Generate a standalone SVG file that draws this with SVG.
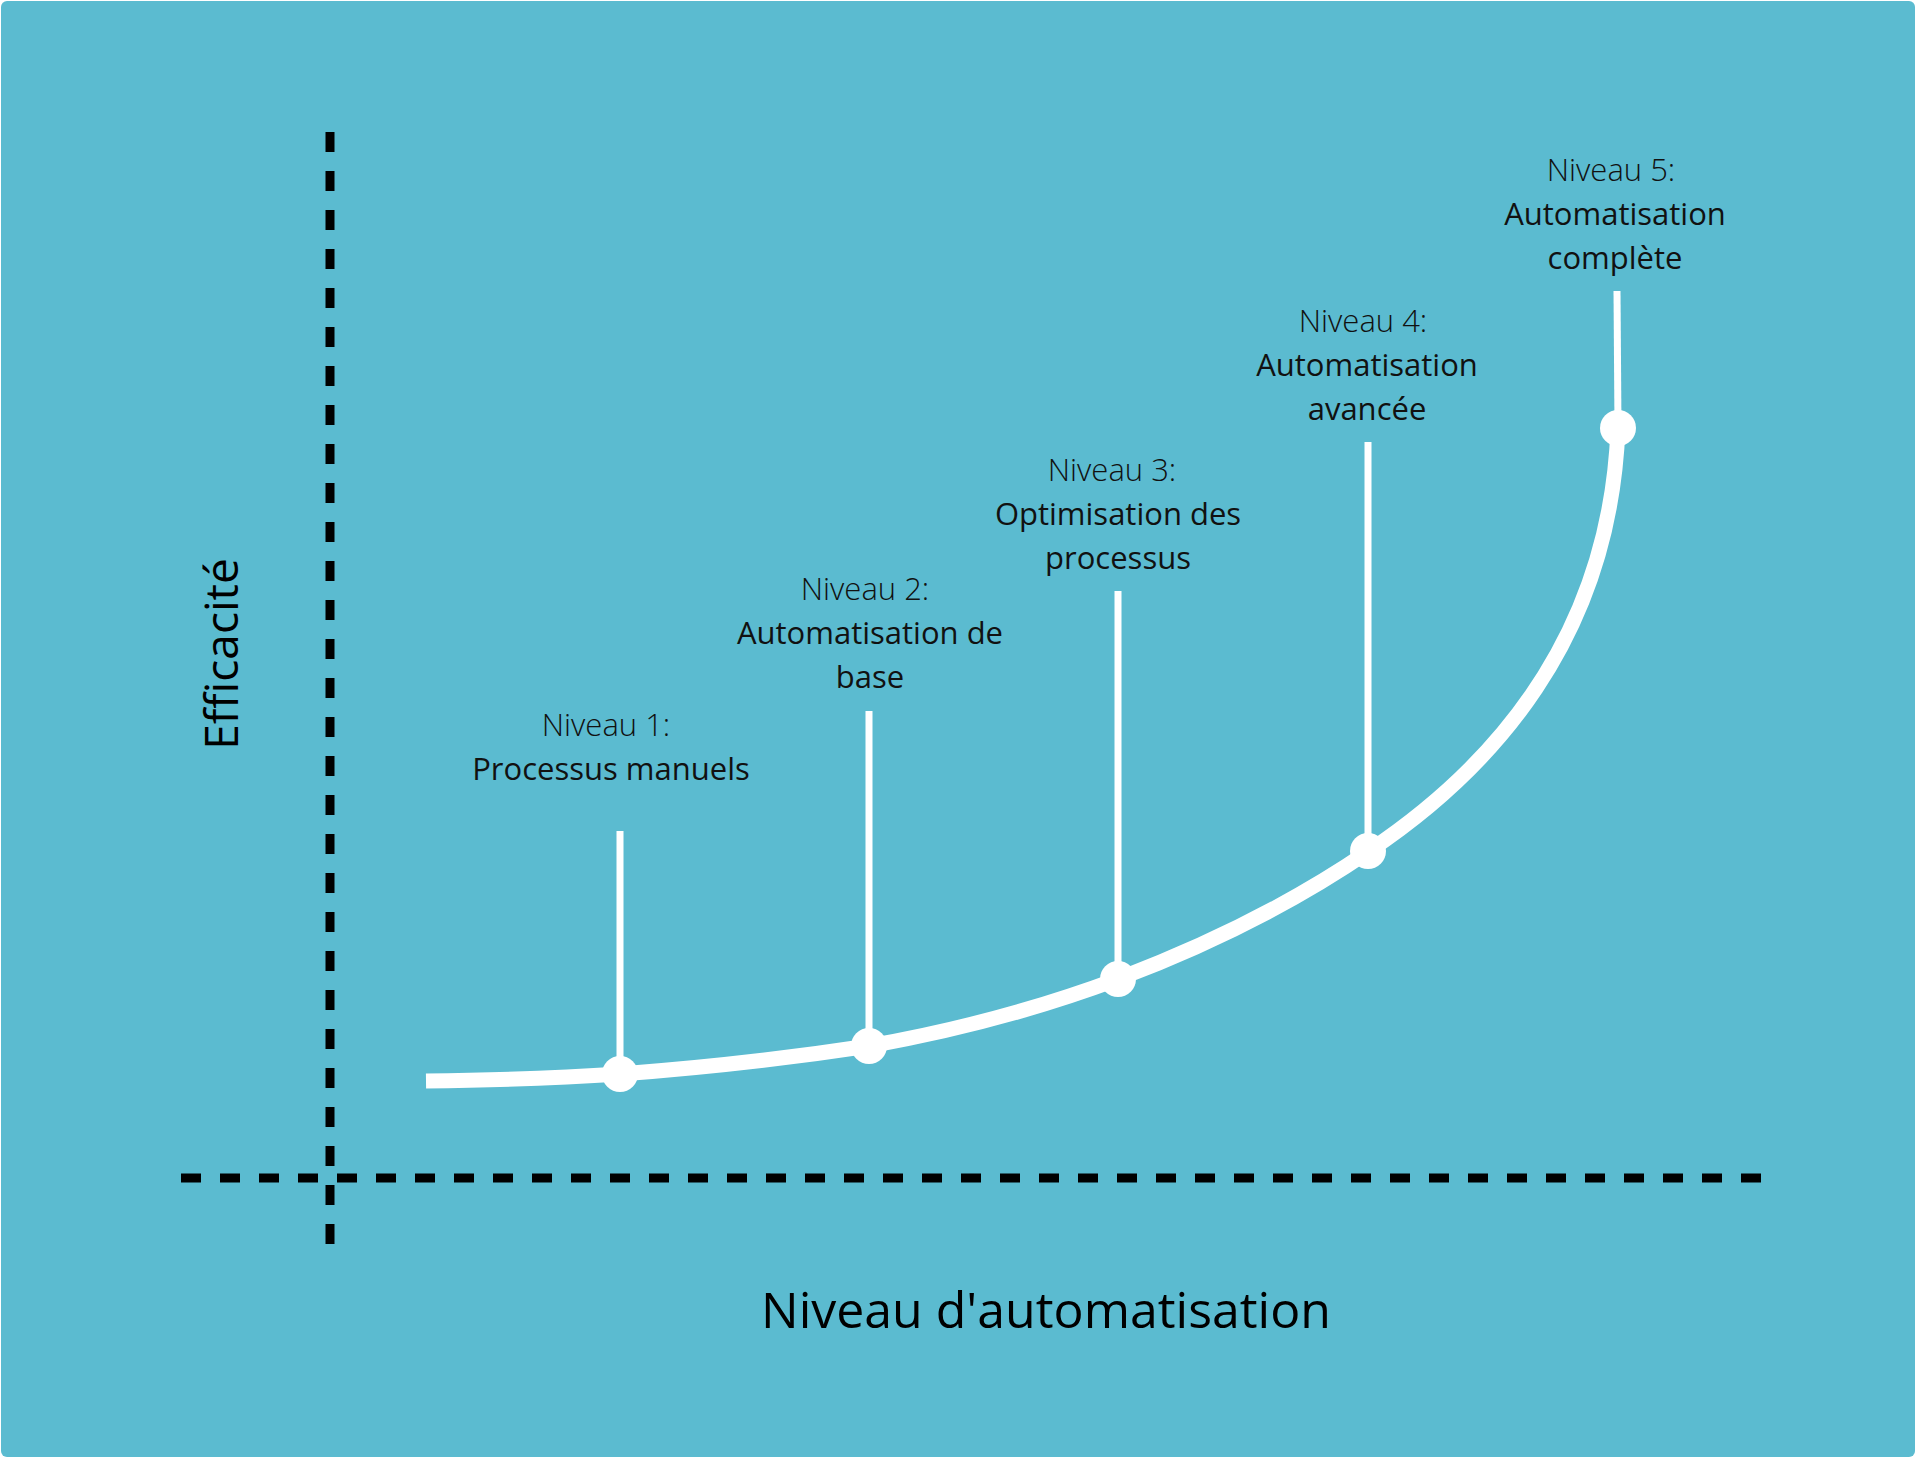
<svg xmlns="http://www.w3.org/2000/svg" width="1916" height="1458" viewBox="0 0 1916 1458">
<style>
.axis{stroke:#000;stroke-width:9;stroke-dasharray:20 19;fill:none}
.stem{stroke:#fff;stroke-width:7}
.dot{fill:#fff}
.lvl{font-family:"Open Sans",sans-serif;font-weight:300;font-size:31px;fill:#111;text-anchor:middle}
.ttl{font-family:"Open Sans",sans-serif;font-weight:500;font-size:31px;fill:#111;text-anchor:middle}
.ax{font-family:"Open Sans",sans-serif;font-weight:500;fill:#000;text-anchor:middle}
</style>
<rect x="1" y="1" width="1914" height="1456" rx="6" fill="#5BBBD0"/>
<g id="axes">
<line class="axis" x1="330" y1="132" x2="330" y2="1262"/>
<line class="axis" x1="181" y1="1178" x2="1766" y2="1178"/>
</g>
<g id="connectors">
<path d="M426 1081 C 500 1080 560 1078 620 1074 C 700 1068 790 1058 869 1046 C 960 1030 1040 1008 1118 979 C 1200 948 1290 905 1369 851 C 1490 770 1610 640 1618 428" fill="none" stroke="#fff" stroke-width="15"/>
<line class="stem" x1="620" y1="831" x2="620" y2="1074"/>
<line class="stem" x1="869" y1="711" x2="869" y2="1046"/>
<line class="stem" x1="1118" y1="591" x2="1118" y2="979"/>
<line class="stem" x1="1368" y1="442" x2="1368" y2="851"/>
<line class="stem" x1="1617" y1="291" x2="1618" y2="428"/>
</g>
<g id="n1"><circle class="dot" cx="620" cy="1074" r="18"/><text class="lvl" x="606" y="736">Niveau 1:</text><text class="ttl" x="611" y="780">Processus manuels</text></g>
<g id="n2"><circle class="dot" cx="869" cy="1046" r="18"/><text class="lvl" x="865" y="600">Niveau 2:</text><text class="ttl" x="870" y="644">Automatisation de</text><text class="ttl" x="870" y="688">base</text></g>
<g id="n3"><circle class="dot" cx="1118" cy="979" r="18"/><text class="lvl" x="1112" y="481">Niveau 3:</text><text class="ttl" x="1118" y="525">Optimisation des</text><text class="ttl" x="1118" y="569">processus</text></g>
<g id="n4"><circle class="dot" cx="1368" cy="851" r="18"/><text class="lvl" x="1363" y="332">Niveau 4:</text><text class="ttl" x="1367" y="376">Automatisation</text><text class="ttl" x="1367" y="420">avancée</text></g>
<g id="n5"><circle class="dot" cx="1618" cy="428" r="18"/><text class="lvl" x="1611" y="181">Niveau 5:</text><text class="ttl" x="1615" y="225">Automatisation</text><text class="ttl" x="1615" y="269">complète</text></g>
<g id="labels">
<text class="ax" font-size="46" transform="translate(238 654) rotate(-90)">Efficacité</text>
<text class="ax" font-size="50" x="1046" y="1328">Niveau d'automatisation</text>
</g>
</svg>
